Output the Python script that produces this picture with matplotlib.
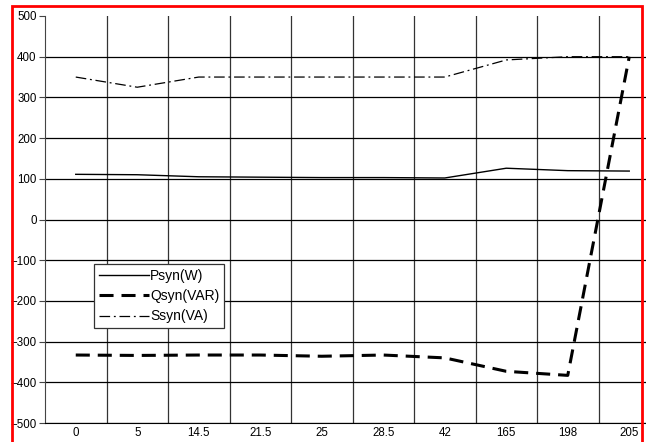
import numpy as np
import matplotlib.pyplot as plt
from matplotlib.patches import Rectangle

plt.rcParams['font.family'] = ['Liberation Sans', 'DejaVu Sans']

# categorias do eixo x e as tres potencias
categorias = ['0', '5', '14.5', '21.5', '25', '28.5', '42', '165', '198', '205']
psyn = [111, 110, 105, 104, 103, 103, 102, 126, 120, 119]
qsyn = [-333, -334, -333, -333, -336, -333, -340, -373, -383, 400]
ssyn = [350, 325, 350, 350, 350, 350, 350, 392, 400, 400]

W, H = 646, 442
fig = plt.figure(figsize=(W / 100, H / 100), dpi=100)
ax = fig.add_axes([45 / W, 19 / H, 615 / W, 407 / H])

x = np.arange(len(categorias))
ax.plot(x, psyn, color='black', lw=1.0, label='Psyn(W)')
ax.plot(x, qsyn, color='black', lw=2.2, dashes=(4.6, 2.6), label='Qsyn(VAR)')
ax.plot(x, ssyn, color='black', lw=0.9, dashes=(8.5, 3, 1.5, 3), label='Ssyn(VA)')

ax.set_xlim(-0.5, len(categorias) - 0.5)
ax.set_ylim(-500, 500)
ax.set_yticks(np.arange(-500, 501, 100))
ax.set_xticks(x)
ax.set_xticklabels(categorias, fontsize=8.3)
ax.set_xticks(x[:-1] + 0.5, minor=True)
ax.tick_params(axis='y', labelsize=8.3, length=4, width=0.8, color='#444444', pad=2)
ax.tick_params(axis='x', which='both', length=0, pad=3)

# grade: horizontais nos valores, verticais entre as categorias
ax.grid(True, axis='y', which='major', color='black', lw=0.9)
ax.grid(True, axis='x', which='minor', color='#333333', lw=0.9)
ax.yaxis.get_gridlines()[-1].set_visible(False)
for s in ['top', 'right']:
    ax.spines[s].set_visible(False)
ax.spines['left'].set_color('#444444')
ax.spines['bottom'].set_color('black')

leg = ax.legend(loc='upper left', bbox_to_anchor=(94 / W, 1 - 264 / H),
                bbox_transform=fig.transFigure, fontsize=10, frameon=True,
                fancybox=False, edgecolor='#333333', framealpha=1,
                handlelength=3.6, handletextpad=0.1, borderpad=0.35,
                labelspacing=0.45, borderaxespad=0)
leg.get_frame().set_linewidth(0.9)

# moldura vermelha em volta da figura
fig.patches.append(Rectangle((12 / W, -0.05), 630 / W, 1.05 - 6 / H,
                             transform=fig.transFigure, fill=False,
                             edgecolor='red', lw=2, zorder=10))

fig.savefig('out.png', dpi=100)
